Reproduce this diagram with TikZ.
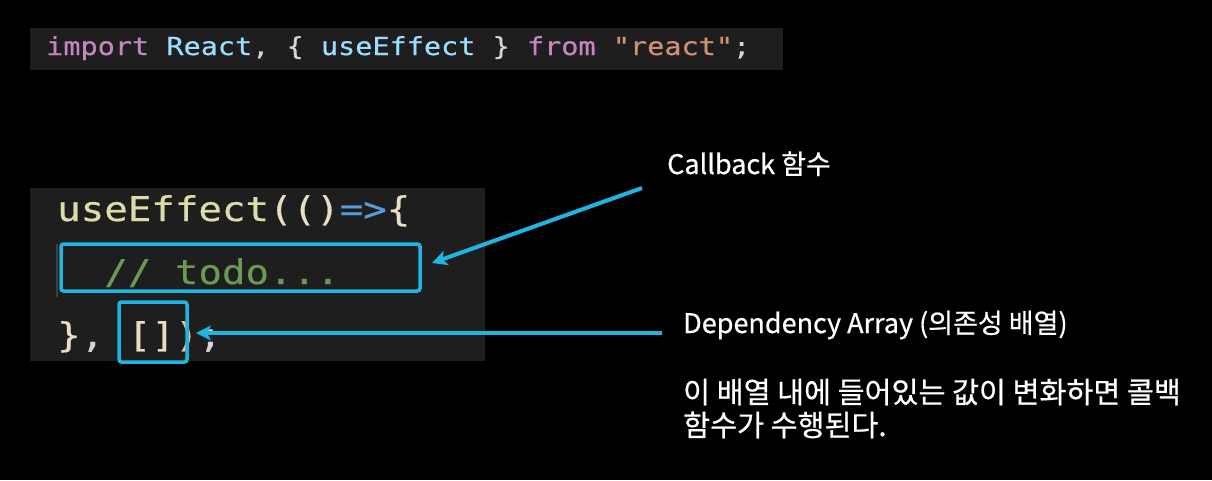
\documentclass[tikz,border=0pt]{standalone}
\usepackage{fontspec}
\usetikzlibrary{arrows.meta}
\newfontfamily\codefont[FakeStretch=1.15,FakeBold=0.5]{DejaVu Sans Mono}
\newfontfamily\krfont[FakeBold=0.6]{Noto Sans CJK KR}
\definecolor{pagebg}{RGB}{0,0,0}
\definecolor{codebg}{RGB}{30,30,30}
\definecolor{kw}{RGB}{197,134,192}
\definecolor{ident}{RGB}{156,220,254}
\definecolor{punct}{RGB}{212,212,212}
\definecolor{str}{RGB}{206,145,120}
\definecolor{fn}{RGB}{220,220,170}
\definecolor{brk}{RGB}{232,222,196}
\definecolor{brkb}{RGB}{226,196,140}
\definecolor{op}{RGB}{86,156,214}
\definecolor{cmt}{RGB}{106,153,85}
\definecolor{guide}{RGB}{64,64,64}
\definecolor{hl}{RGB}{31,180,226}
\tikzset{
  codeline/.style={anchor=base west, inner sep=0pt, font=\codefont\fontsize{34}{40}\selectfont},
  label/.style={anchor=base west, inner sep=0pt, text=white, font=\krfont\fontsize{27}{32}\selectfont},
  desc/.style={label, font=\krfont\fontsize{29.3}{34}\selectfont},
  hlbox/.style={draw=hl, line width=3.5pt, rounded corners=2.5pt, inner sep=0pt},
  pointer/.style={draw=hl, line width=4pt, -{Stealth[length=15pt,width=15pt,inset=4pt]}}
}
\begin{document}
\begin{tikzpicture}[x=1pt,y=-1pt]
  % canvas
  \fill[pagebg] (0,0) rectangle (1212,480);
  \useasboundingbox (0,0) rectangle (1212,480);

  % import statement
  \fill[codebg] (30,28) rectangle (783,70);
  \node[codeline, font=\codefont\fontsize{24.8}{30}\selectfont] (imp) at (46,55)
    {\textcolor{kw}{import} \textcolor{ident}{React}\textcolor{punct}{, \{} \textcolor{ident}{useEffect} \textcolor{punct}{\}} \textcolor{kw}{from} \textcolor{str}{"react"}\textcolor{punct}{;}};

  % useEffect block
  \fill[codebg] (30,188) rectangle (485,361);
  \draw[guide, line width=1.5pt] (57,244) -- (57,297);
  \node[codeline] (l1) at (57,221)
    {\textcolor{fn}{useEffect}\textcolor{brk}{(()}\textcolor{op}{=>}\textcolor{brk}{\{}};
  \node[codeline] (l2) at (57,284)
    {\textcolor{cmt}{\ \ // todo...}};
  \node[codeline] (l3) at (57,347)
    {\textcolor{brk}{\}}\textcolor{punct}{, }\textcolor{brk}{[]}\textcolor{brkb}{)}\textcolor{punct}{;}};

  % highlight boxes
  \node[hlbox, minimum width=359pt, minimum height=47pt] (cbbox) at (240.5,267.5) {};
  \node[hlbox, minimum width=68pt, minimum height=60pt] (depbox) at (153,332) {};

  % labels
  \node[label] (cblabel) at (667,174) {Callback 함수};
  \node[label] (deplabel) at (683,333) {Dependency Array (의존성 배열)};
  \node[desc] (desc1) at (683,403) {이 배열 내에 들어있는 값이 변화하면 콜백};
  \node[desc] (desc2) at (683,436) {함수가 수행된다.};

  % pointers
  \coordinate (cbtail) at (642,188);
  \coordinate (cbtip) at (432,263);
  \coordinate (deptail) at (662,333);
  \coordinate (deptip) at (196,333);
  \draw[pointer] (cbtail) -- (cbtip);
  \draw[pointer] (deptail) -- (deptip);
\end{tikzpicture}
\end{document}
